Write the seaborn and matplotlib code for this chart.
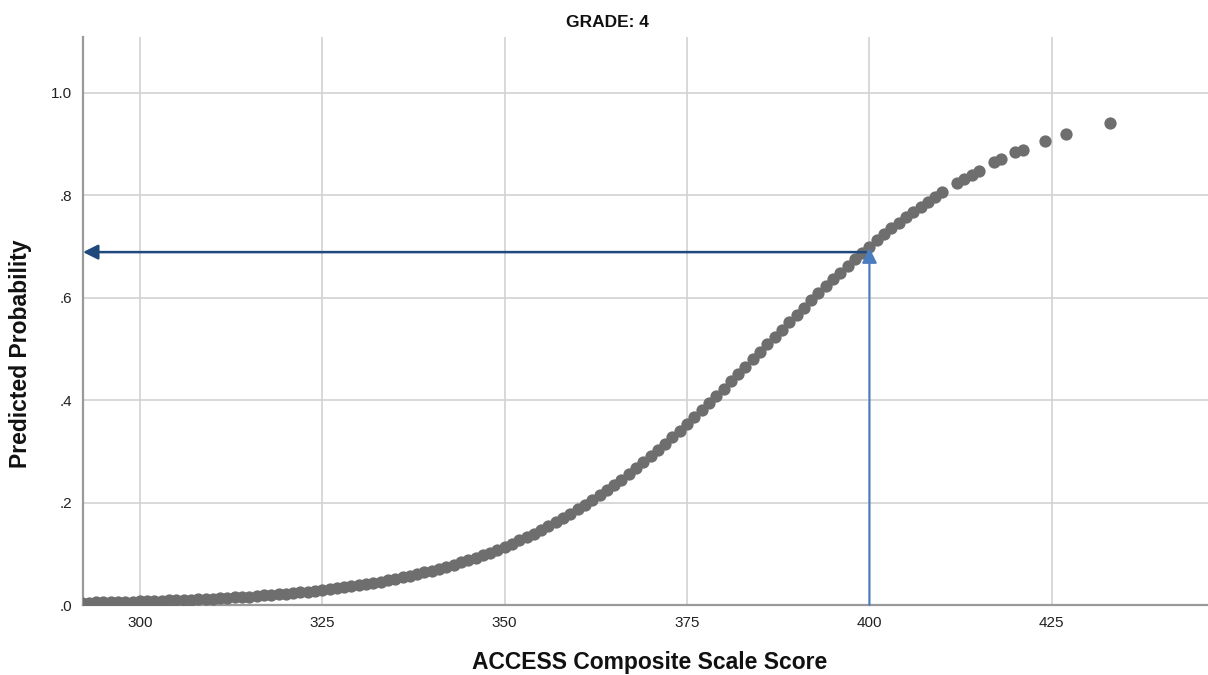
import matplotlib
matplotlib.use('Agg')
import matplotlib.pyplot as plt
import seaborn as sns
import pandas as pd

# ACCESS composite scale score (every integer in the dense part, sparse at the top)
scores = list(range(292, 411)) + [412, 413, 414, 415, 417, 418, 420, 421, 424, 427, 433]

# Predicted probability, one value per score
probs = [
    0.0044, 0.0047, 0.0050, 0.0053, 0.0056, 0.0059, 0.0063, 0.0066, 0.0070,   # 292-300
    0.0074, 0.0079, 0.0083, 0.0088, 0.0094, 0.0099, 0.0105, 0.0111, 0.0118, 0.0125,  # 301-310
    0.0132, 0.0140, 0.0148, 0.0157, 0.0166, 0.0175, 0.0186, 0.0197, 0.0208, 0.0220,  # 311-320
    0.0233, 0.0247, 0.0261, 0.0276, 0.0292, 0.0309, 0.0327, 0.0346, 0.0366, 0.0387,  # 321-330
    0.0409, 0.0432, 0.0457, 0.0483, 0.0510, 0.0539, 0.0569, 0.0601, 0.0635, 0.0670,  # 331-340
    0.0708, 0.0747, 0.0788, 0.0831, 0.0876, 0.0924, 0.0973, 0.1025, 0.1080, 0.1137,  # 341-350
    0.1197, 0.1260, 0.1325, 0.1393, 0.1464, 0.1538, 0.1615, 0.1695, 0.1778, 0.1865,  # 351-360
    0.1954, 0.2047, 0.2143, 0.2242, 0.2345, 0.2450, 0.2559, 0.2671, 0.2786, 0.2904,  # 361-370
    0.3025, 0.3149, 0.3276, 0.3405, 0.3536, 0.3670, 0.3806, 0.3943, 0.4083, 0.4223,  # 371-380
    0.4365, 0.4509, 0.4653, 0.4797, 0.4942, 0.5087, 0.5232, 0.5376, 0.5520, 0.5663,  # 381-390
    0.5805, 0.5946, 0.6085, 0.6222, 0.6357, 0.6490, 0.6621, 0.6750, 0.6876, 0.6999,  # 391-400
    0.7119, 0.7237, 0.7351, 0.7463, 0.7571, 0.7676, 0.7778, 0.7876, 0.7972, 0.8064,  # 401-410
    0.8239, 0.8321, 0.8401, 0.8477, 0.8640, 0.8700, 0.8840, 0.8890, 0.9060, 0.9200,  # 412-427
    0.9420,  # 433
]

# the reading marked with arrows: score 400 -> probability about .69
cutoff_score = 400
cutoff_prob = 0.689

df = pd.DataFrame({'score': scores, 'prob': probs})

sns.set_style('white')
plt.rcParams['font.family'] = ['Liberation Sans', 'DejaVu Sans']

fig = plt.figure(figsize=(12.08, 6.75), dpi=100)
ax = fig.add_axes([0.0687, 0.1037, 0.9313, 0.8415])

sns.scatterplot(data=df, x='score', y='prob', ax=ax, color='#6e6e6e',
                s=78, linewidth=0, zorder=3)

ax.set_xlim(292.2, 446.4)
ax.set_ylim(0, 1.109)
ax.set_xticks([300, 325, 350, 375, 400, 425])
ax.set_yticks([0, 0.2, 0.4, 0.6, 0.8, 1.0])
ax.set_yticklabels(['.0', '.2', '.4', '.6', '.8', '1.0'])

ax.grid(True, color='#d2d2d2', linewidth=1.2)
ax.set_axisbelow(True)
for side in ['top', 'right']:
    ax.spines[side].set_visible(False)
for side in ['left', 'bottom']:
    ax.spines[side].set_color('#9a9a9a')
    ax.spines[side].set_linewidth(1.6)
ax.tick_params(axis='both', length=3, color='#c8c8c8', labelsize=11,
               labelcolor='#222222', pad=5)

# arrows: up from the score axis, then across to the probability axis
ax.annotate('', xy=(cutoff_score, cutoff_prob + 0.008), xytext=(cutoff_score, 0),
            arrowprops=dict(arrowstyle='-|>,head_length=0.9,head_width=0.45',
                            color='#4a7cc0', lw=1.5, shrinkA=0, shrinkB=0),
            annotation_clip=False, zorder=4)
ax.annotate('', xy=(292.2, cutoff_prob), xytext=(cutoff_score - 0.5, cutoff_prob),
            arrowprops=dict(arrowstyle='-|>,head_length=0.9,head_width=0.45',
                            color='#1f497d', lw=1.8, shrinkA=0, shrinkB=0),
            annotation_clip=False, zorder=4)

ax.set_xlabel('')
ax.set_ylabel('')
fig.text(0.503, 0.967, 'GRADE: 4', ha='center', va='center', fontsize=12.5,
         fontweight='bold', color='#111111')
fig.text(0.538, 0.018, 'ACCESS Composite Scale Score', ha='center', va='center',
         fontsize=16.5, fontweight='bold', color='#111111')
fig.text(0.0166, 0.476, 'Predicted Probability', ha='center', va='center',
         rotation=90, fontsize=16.5, fontweight='bold', color='#111111')

fig.savefig('out.png', dpi=100)
